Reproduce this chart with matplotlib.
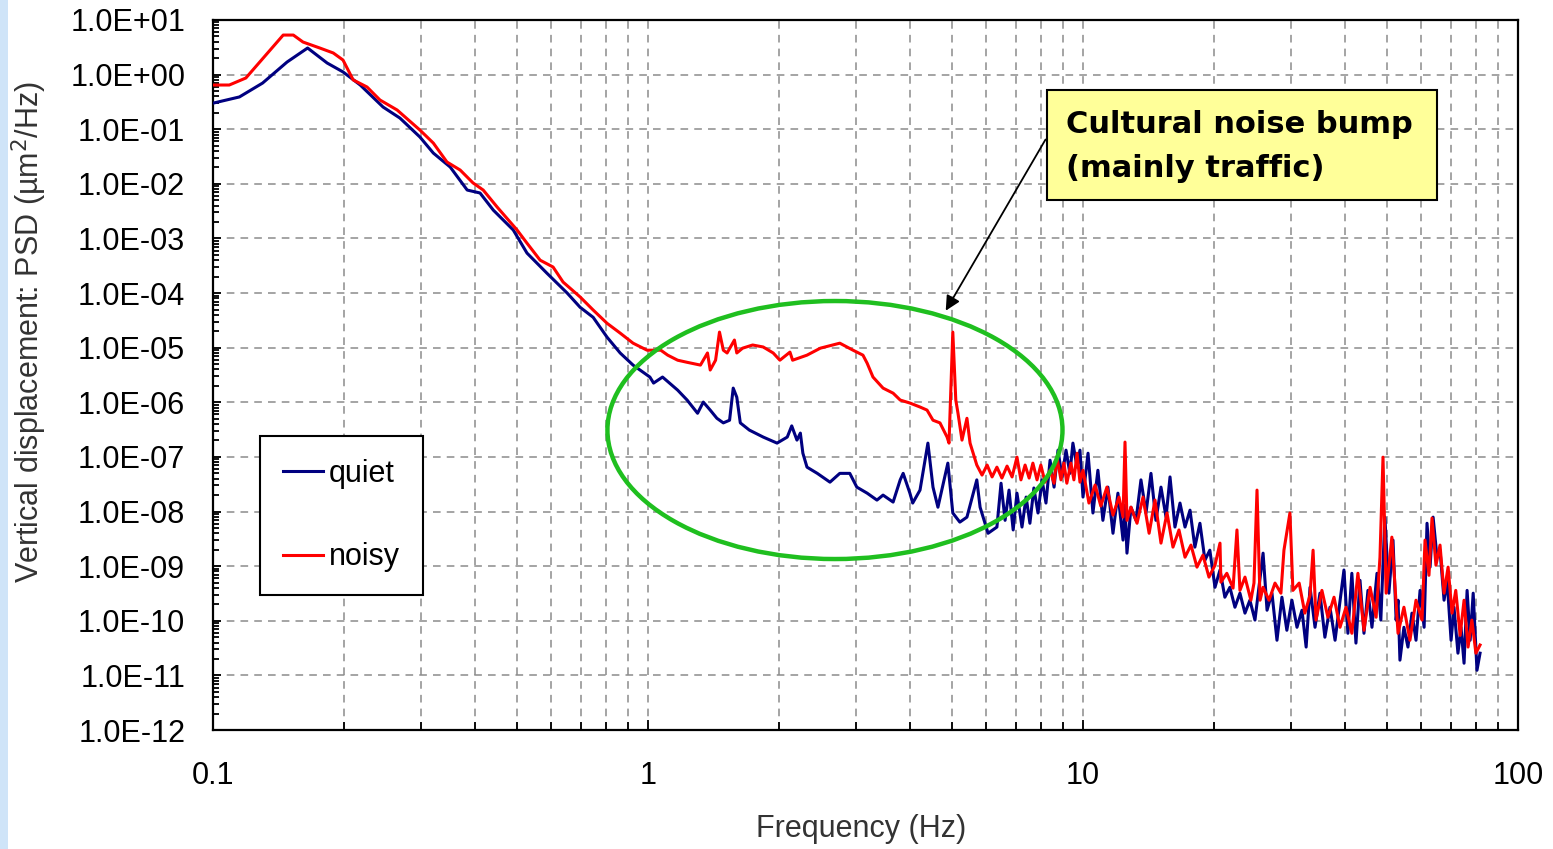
import numpy as np
import matplotlib.pyplot as plt
from matplotlib.patches import Ellipse, Rectangle
from matplotlib.ticker import LogLocator, FuncFormatter, NullFormatter

plt.rcParams['font.family'] = ['Liberation Sans', 'DejaVu Sans']

# quiet site spectrum (Hz, um^2/Hz)
quiet_f = [0.100, 0.115, 0.130, 0.148, 0.165, 0.183, 0.199, 0.218, 0.246, 0.269,
           0.299, 0.321, 0.351, 0.384, 0.411, 0.441, 0.490, 0.527, 0.586, 0.652,
           0.698, 0.748, 0.805, 0.863, 0.924, 1.01, 1.03, 1.08, 1.17, 1.23,
           1.30, 1.34, 1.39, 1.44, 1.49, 1.54, 1.57, 1.60, 1.63, 1.71,
           1.84, 1.98, 2.09, 2.14, 2.20, 2.24, 2.27, 2.32, 2.45, 2.62,
           2.76, 2.91, 3.02, 3.19, 3.36, 3.47, 3.66, 3.80, 3.86, 4.00,
           4.06, 4.22, 4.40, 4.52, 4.64, 4.89, 5.02, 5.21, 5.41, 5.70,
           5.80, 6.05, 6.34, 6.48, 6.62, 6.76, 6.91, 7.05, 7.24, 7.40,
           7.55, 7.71, 7.88, 8.05, 8.22, 8.40, 8.58, 8.76, 8.95, 9.14,
           9.33, 9.48, 9.69, 9.84, 10.0, 10.27, 10.54, 10.82, 11.11, 11.41,
           11.72, 12.03, 12.36, 12.49, 12.62, 12.89, 13.24, 13.59, 13.96, 14.33,
           14.71, 15.11, 15.52, 15.85, 16.27, 16.71, 17.16, 17.62, 18.08, 18.57,
           19.07, 19.57, 20.11, 20.65, 21.19, 21.76, 22.35, 22.95, 23.57, 24.19,
           24.85, 25.94, 26.49, 27.19, 27.92, 28.66, 29.42, 30.22, 31.04, 31.87,
           32.58, 33.26, 34.15, 35.05, 35.98, 36.96, 37.97, 39.80, 40.64, 41.50,
           42.41, 43.33, 44.25, 45.19, 46.16, 47.41, 48.38, 49.43, 50.49, 51.60,
           52.46, 52.99, 53.53, 54.67, 55.85, 57.04, 58.28, 59.55, 60.84, 61.78,
           62.79, 63.80, 65.13, 66.18, 67.61, 68.71, 70.17, 71.26, 72.77, 73.96,
           75.16, 76.38, 77.62, 78.88, 80.48, 81.8]
quiet_psd = [0.30, 0.39, 0.70, 1.70, 3.07, 1.63, 1.12, 0.645, 0.255, 0.160,
             0.072, 0.0366, 0.0203, 7.7e-3, 6.8e-3, 3.3e-3, 1.43e-3, 5.4e-4, 2.3e-4, 1.0e-4,
             5.5e-5, 3.6e-5, 1.56e-5, 8.0e-6, 4.8e-6, 2.9e-6, 2.25e-6, 2.9e-6, 1.67e-6, 1.10e-6,
             6.3e-7, 1.01e-6, 7.2e-7, 5.1e-7, 4.2e-7, 4.7e-7, 1.82e-6, 1.24e-6, 4.2e-7, 3.1e-7,
             2.31e-7, 1.79e-7, 2.31e-7, 3.7e-7, 2.03e-7, 2.73e-7, 1.17e-7, 6.5e-8, 5.0e-8, 3.45e-8,
             5.0e-8, 5.0e-8, 2.8e-8, 2.17e-8, 1.62e-8, 2.0e-8, 1.49e-8, 3.8e-8, 5.0e-8, 2.17e-8,
             1.43e-8, 2.47e-8, 1.79e-7, 2.8e-8, 1.2e-8, 7.7e-8, 9.4e-9, 6.4e-9, 7.9e-9, 3.8e-8,
             1.2e-8, 4.0e-9, 5.2e-9, 3.3e-8, 6.9e-9, 2.47e-8, 4.6e-9, 2.17e-8, 5.2e-9, 1.84e-8,
             6.1e-9, 2.7e-8, 9.4e-9, 3.8e-8, 1.43e-8, 8.7e-8, 2.8e-8, 1.33e-7, 4.3e-8, 1.33e-7,
             5.0e-8, 1.79e-7, 6.5e-8, 1.33e-7, 1.84e-8, 1.17e-7, 9.4e-9, 5.7e-8, 6.9e-9, 2.8e-8,
             4.0e-9, 2.17e-8, 3.0e-9, 1.31e-8, 1.73e-9, 1.2e-8, 6.9e-9, 3.8e-8, 9.4e-9, 5.0e-8,
             6.9e-9, 2.8e-8, 7.9e-9, 4.3e-8, 5.2e-9, 1.43e-8, 5.2e-9, 1.06e-8, 2.23e-9, 6.1e-9,
             1.29e-9, 1.96e-9, 4.1e-10, 8.5e-10, 2.7e-10, 4.1e-10, 1.77e-10, 3.2e-10, 1.38e-10, 2.38e-10,
             1.03e-10, 1.73e-9, 1.56e-10, 3.2e-10, 4.4e-11, 2.7e-10, 6.7e-11, 2.38e-10, 7.6e-11, 1.56e-10,
             3.3e-11, 4.1e-10, 7.6e-11, 3.2e-10, 5.0e-11, 1.77e-10, 4.4e-11, 8.5e-10, 5.9e-11, 7.4e-10,
             3.9e-11, 5.5e-10, 5.9e-11, 3.6e-10, 7.6e-11, 7.4e-10, 1.03e-10, 7.9e-9, 3.2e-10, 3.0e-9,
             1.03e-10, 2.38e-10, 1.9e-11, 7.6e-11, 3.3e-11, 1.38e-10, 4.4e-11, 3.6e-10, 7.6e-11, 6.1e-9,
             9.6e-10, 7.9e-9, 1.46e-9, 1.96e-9, 2.38e-10, 5.5e-10, 4.4e-11, 1.77e-10, 2.55e-11, 7.6e-11,
             1.67e-11, 3.6e-10, 4.4e-11, 3.2e-10, 1.24e-11, 2.55e-11]

# noisy site spectrum
noisy_f = [0.100, 0.109, 0.119, 0.145, 0.153, 0.161, 0.176, 0.189, 0.199, 0.210,
           0.226, 0.242, 0.265, 0.299, 0.321, 0.345, 0.370, 0.396, 0.418, 0.450,
           0.500, 0.527, 0.565, 0.605, 0.638, 0.698, 0.748, 0.805, 0.863, 0.924,
           0.995, 1.07, 1.11, 1.17, 1.23, 1.32, 1.37, 1.39, 1.43, 1.46,
           1.49, 1.52, 1.58, 1.60, 1.65, 1.74, 1.84, 1.94, 2.01, 2.12,
           2.15, 2.32, 2.49, 2.66, 2.76, 2.96, 3.12, 3.19, 3.29, 3.47,
           3.66, 3.80, 4.00, 4.22, 4.38, 4.52, 4.69, 4.87, 4.92, 5.02,
           5.10, 5.16, 5.27, 5.41, 5.50, 5.70, 5.86, 6.02, 6.18, 6.34,
           6.51, 6.69, 6.87, 7.05, 7.20, 7.36, 7.52, 7.67, 7.84, 8.00,
           8.18, 8.40, 8.58, 8.71, 8.90, 9.04, 9.18, 9.38, 9.53, 9.69,
           9.84, 10.0, 10.32, 10.66, 10.99, 11.35, 11.72, 12.10, 12.36, 12.49,
           12.62, 12.89, 13.31, 13.74, 14.19, 14.64, 15.11, 15.60, 16.10, 16.62,
           17.16, 17.71, 18.28, 18.87, 19.48, 20.11, 20.65, 20.75, 21.41, 22.13,
           22.59, 22.95, 23.57, 24.32, 24.72, 25.12, 25.53, 25.94, 26.77, 27.63,
           28.51, 28.97, 29.90, 30.38, 31.40, 32.36, 33.26, 33.80, 34.33, 35.42,
           36.56, 37.76, 38.98, 40.23, 41.50, 42.85, 44.25, 45.71, 47.19, 48.16,
           48.94, 49.76, 51.29, 52.99, 54.67, 56.44, 58.28, 60.18, 61.13, 62.42,
           63.43, 64.77, 66.18, 67.61, 69.07, 70.53, 71.93, 73.62, 75.16, 76.77,
           78.33, 80.02, 81.8]
noisy_psd = [0.645, 0.645, 0.867, 5.3, 5.3, 3.95, 3.07, 2.49, 1.85, 0.80,
             0.593, 0.343, 0.225, 0.0966, 0.0558, 0.0251, 0.0179, 0.0104, 7.7e-3, 3.76e-3,
             1.43e-3, 8.2e-4, 4.0e-4, 3.0e-4, 1.59e-4, 8.5e-5, 4.9e-5, 2.8e-5, 1.85e-5, 1.21e-5,
             9.0e-6, 9.0e-6, 7.3e-6, 5.9e-6, 5.4e-6, 4.8e-6, 8.0e-6, 3.9e-6, 5.9e-6, 1.93e-5,
             9.0e-6, 8.0e-6, 1.38e-5, 8.0e-6, 9.8e-6, 1.12e-5, 1.03e-5, 8.0e-6, 5.9e-6, 8.3e-6,
             5.9e-6, 7.3e-6, 9.8e-6, 1.12e-5, 1.21e-5, 9.0e-6, 7.3e-6, 5.2e-6, 2.9e-6, 1.82e-6,
             1.47e-6, 1.10e-6, 9.7e-7, 8.2e-7, 7.2e-7, 4.7e-7, 4.2e-7, 2.31e-7, 1.79e-7, 1.93e-5,
             1.10e-6, 6.3e-7, 2.03e-7, 5.1e-7, 1.79e-7, 7.1e-8, 4.65e-8, 7.1e-8, 4.3e-8, 6.5e-8,
             4.1e-8, 6.8e-8, 4.3e-8, 9.9e-8, 3.8e-8, 7.1e-8, 4.1e-8, 7.7e-8, 3.8e-8, 7.1e-8,
             3.45e-8, 5.7e-8, 3.3e-8, 9.9e-8, 3.8e-8, 7.7e-8, 3.3e-8, 7.7e-8, 3.8e-8, 1.17e-7,
             3.45e-8, 5.7e-8, 1.43e-8, 3.05e-8, 1.26e-8, 2.8e-8, 8.6e-9, 1.84e-8, 7.9e-9, 1.87e-7,
             6.9e-9, 1.2e-8, 6.1e-9, 1.84e-8, 4.0e-9, 1.62e-8, 2.64e-9, 9.4e-9, 2.23e-9, 4.6e-9,
             1.46e-9, 2.43e-9, 9.6e-10, 1.59e-9, 6.3e-10, 1.04e-9, 2.64e-9, 5.1e-10, 7.4e-10, 3.96e-10,
             4.6e-9, 3.6e-10, 6.3e-10, 2.38e-10, 4.9e-10, 2.47e-8, 2.38e-10, 4.1e-10, 2.38e-10, 4.9e-10,
             3.2e-10, 1.96e-9, 9.4e-9, 3.6e-10, 4.9e-10, 1.38e-10, 2.94e-10, 1.96e-9, 1.03e-10, 3.6e-10,
             1.16e-10, 2.7e-10, 7.6e-11, 1.77e-10, 5.9e-11, 7.4e-10, 6.7e-11, 4.1e-10, 1.16e-10, 1.46e-9,
             9.9e-8, 3.2e-10, 3.4e-9, 5.9e-11, 1.77e-10, 4.4e-11, 2.38e-10, 1.03e-10, 3.0e-9, 6.8e-10,
             7.6e-9, 1.04e-9, 2.43e-9, 3.2e-10, 9.6e-10, 1.38e-10, 3.6e-10, 5.4e-11, 2.38e-10, 3.3e-11,
             1.03e-10, 2.55e-11, 3.6e-11]

W, H = 1553, 849
fig = plt.figure(figsize=(W / 100, H / 100), dpi=100)
# thin slide-background strip on the left edge
fig.patches.append(Rectangle((0, 0), 8 / W, 1, transform=fig.transFigure,
                             facecolor='#cfe4f8', edgecolor='none'))
ax = fig.add_axes([213 / W, 1 - 730 / H, 1305 / W, 710 / H])

ax.plot(quiet_f, quiet_psd, color='#000080', lw=2.2, label='quiet', zorder=3)
ax.plot(noisy_f, noisy_psd, color='#ff0000', lw=2.2, label='noisy', zorder=4)

ax.set_xscale('log')
ax.set_yscale('log')
ax.set_xlim(0.1, 100)
ax.set_ylim(1e-12, 1e1)

ax.xaxis.set_major_locator(LogLocator(base=10, numticks=10))
ax.xaxis.set_minor_locator(LogLocator(base=10, subs=np.arange(2, 10), numticks=10))
ax.xaxis.set_major_formatter(FuncFormatter(lambda v, p: f'{v:g}'))
ax.xaxis.set_minor_formatter(NullFormatter())
ax.yaxis.set_major_locator(LogLocator(base=10, numticks=20))
ax.yaxis.set_minor_locator(LogLocator(base=10, subs=np.arange(2, 10), numticks=20))
ax.yaxis.set_major_formatter(FuncFormatter(lambda v, p: f'{v:.1E}'))
ax.yaxis.set_minor_formatter(NullFormatter())

ax.tick_params(which='both', direction='in', top=False, right=False, width=1.3,
               labelsize=22, color='black')
ax.tick_params(axis='y', which='major', length=6, pad=20)
ax.tick_params(axis='y', which='minor', length=4)
ax.tick_params(axis='x', which='major', length=7, pad=22)
ax.tick_params(axis='x', which='minor', length=6)

ax.grid(which='major', axis='both', color='#8c8c8c', ls=(0, (5, 4)), lw=1.1)
ax.grid(which='minor', axis='x', color='#8c8c8c', ls=(0, (5, 4)), lw=1.1)
ax.set_axisbelow(True)
for s in ax.spines.values():
    s.set_linewidth(1.6)
    s.set_color('black')

ax.set_xlabel('Frequency (Hz)', fontsize=22, color='#333333')
ax.set_ylabel('Vertical displacement: PSD (µm$^2$/Hz)', fontsize=22, color='#333333')
ax.xaxis.set_label_coords(0.497, -0.118)
ax.yaxis.set_label_coords(-0.126, 0.56)

leg = ax.legend(loc='upper left', bbox_to_anchor=(0.036, 0.414), fontsize=22,
                frameon=True, fancybox=False, edgecolor='black', framealpha=1,
                labelspacing=1.75, handlelength=1.3, handletextpad=0.2,
                borderpad=0.75, borderaxespad=0)
leg.get_frame().set_linewidth(1.5)

# green ellipse around the cultural-noise region
ax.add_patch(Ellipse((0.4766, 0.4225), 0.3487, 0.3634, transform=ax.transAxes,
                     fill=False, edgecolor='#1fbf1f', lw=3.2, zorder=5))

# callout box
ax.add_patch(Rectangle((0.639, 0.746), 0.299, 0.155, transform=ax.transAxes,
                       facecolor='#ffff99', edgecolor='black', lw=1.5, zorder=6))
ax.text(0.654, 0.822, 'Cultural noise bump\n(mainly traffic)', transform=ax.transAxes,
        fontsize=22, fontweight='bold', family='DejaVu Sans', va='center', ha='left',
        linespacing=1.65, zorder=7)
ax.annotate('', xy=(4.8, 4.3e-5), xycoords='data', xytext=(0.639, 0.835),
            textcoords='axes fraction',
            arrowprops=dict(arrowstyle='-|>', color='black', lw=1.3, mutation_scale=22),
            zorder=6)

fig.savefig('out.png', dpi=100)
